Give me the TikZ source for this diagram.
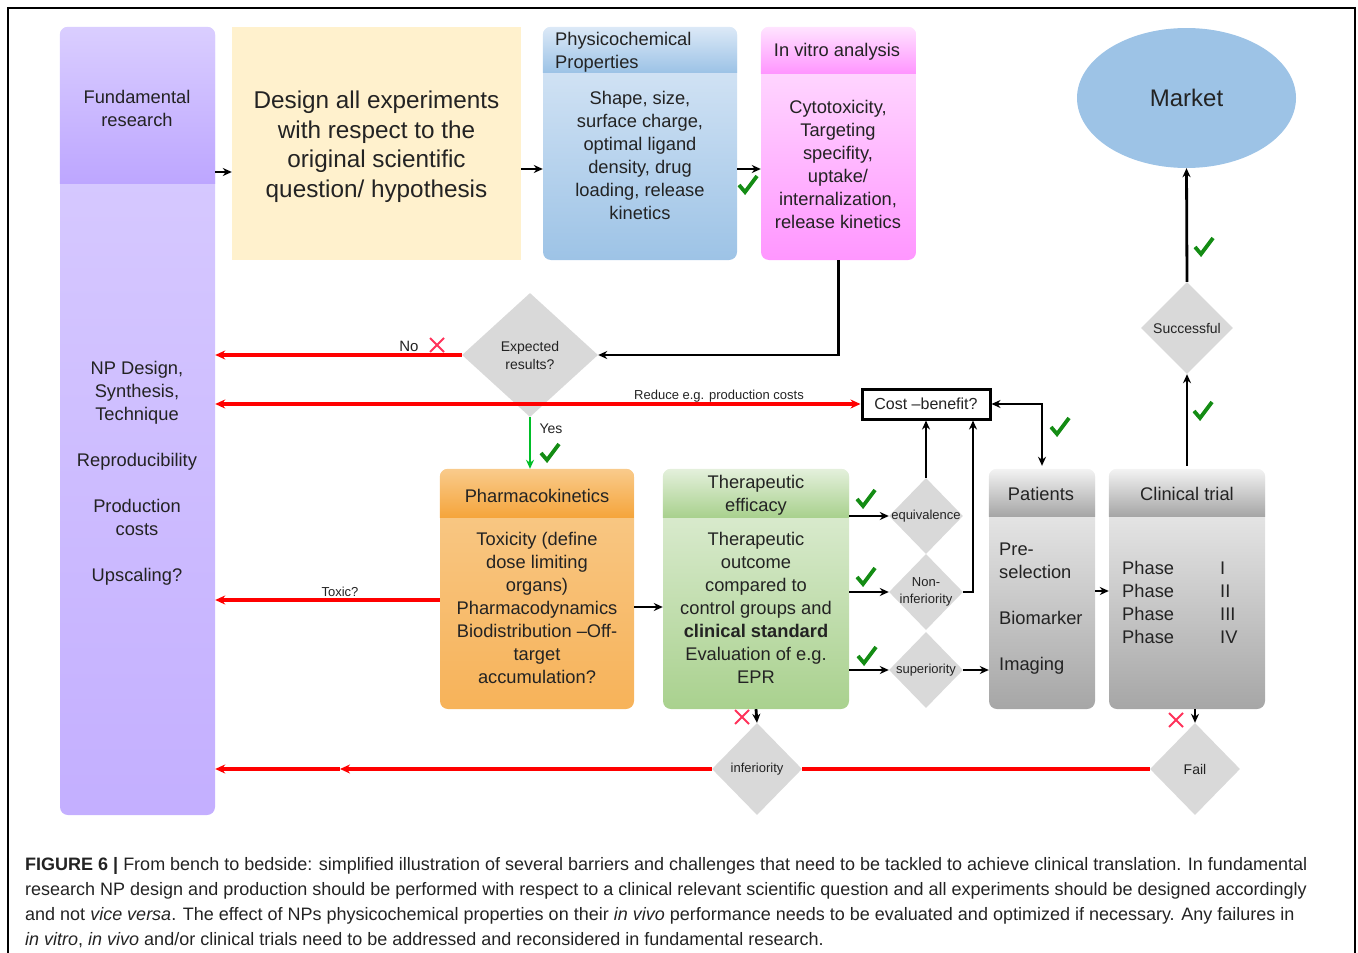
\documentclass[tikz,border=0pt]{standalone}
\usepackage{fontspec}
\setmainfont{Liberation Sans}
\usetikzlibrary{shapes.geometric,arrows.meta}

\definecolor{fundlight}{RGB}{218,206,255}
\definecolor{funddark}{RGB}{189,166,255}
\definecolor{designfill}{RGB}{255,241,205}
\definecolor{physlight}{RGB}{220,233,247}
\definecolor{physdark}{RGB}{157,195,230}
\definecolor{vitrolight}{RGB}{255,228,255}
\definecolor{vitrodark}{RGB}{255,150,255}
\definecolor{pklight}{RGB}{249,203,140}
\definecolor{pkdark}{RGB}{245,165,60}
\definecolor{efflight}{RGB}{228,240,220}
\definecolor{effdark}{RGB}{169,209,142}
\definecolor{greylight}{RGB}{243,243,243}
\definecolor{greydark}{RGB}{166,166,166}
\definecolor{marketfill}{RGB}{157,195,230}
\definecolor{decision}{RGB}{217,217,217}
\definecolor{failred}{RGB}{255,0,0}
\definecolor{crossred}{RGB}{255,50,90}
\definecolor{okgreen}{RGB}{20,140,20}
\definecolor{yesgreen}{RGB}{0,190,40}
\definecolor{txt}{RGB}{35,35,35}

\begin{document}
\begin{tikzpicture}[x=1pt,y=-1pt,
    box/.style={rounded corners=8pt, inner sep=0pt},
    boxtext/.style={text=txt, align=center, inner sep=0pt, font=\fontsize{18.3}{23}\selectfont},
    choice/.style={diamond, fill=decision, inner sep=0pt, aspect=1},
    choicetext/.style={text=txt, align=center, font=\fontsize{13}{17}\selectfont},
    linelabel/.style={text=txt, inner sep=0pt, font=\fontsize{13}{16}\selectfont},
    flow/.style={-{Stealth[length=9pt,width=8pt]}, line width=2.8pt},
    flowboth/.style={{Stealth[length=9pt,width=8pt]}-{Stealth[length=9pt,width=8pt]}, line width=2.8pt},
    back/.style={-{Stealth[length=10pt,width=9pt]}, line width=3.2pt, failred},
    backboth/.style={{Stealth[length=10pt,width=9pt]}-{Stealth[length=10pt,width=9pt]}, line width=3.2pt, failred},
    okmark/.pic={\draw[okgreen, line width=3.8pt] (-9,0) -- (-3,7) -- (9,-9);},
    nomark/.pic={\draw[crossred, line width=1.8pt] (-7,-7) -- (7,7) (-7,7) -- (7,-7);}
  ]
  \useasboundingbox (0,0) rectangle (1358,953);
  \draw[line width=1.2pt] (8,953) -- (8,8) -- (1355,8) -- (1355,953);

  % boxes
  \node (fund) [box, minimum width=155, minimum height=788, top color=fundlight, bottom color=funddark!90] at (137.5,421) {};
  \node (design) [fill=designfill, minimum width=289, minimum height=233] at (376.5,143.5) {};
  \node (phys) [box, minimum width=194, minimum height=233, top color=physlight, bottom color=physdark] at (640,143.5) {};
  \node (vitro) [box, minimum width=155, minimum height=233, top color=vitrolight, bottom color=vitrodark] at (838.5,143.5) {};
  \node (market) [ellipse, fill=marketfill, minimum width=219, minimum height=140, text=txt,
    font=\fontsize{24}{28}\selectfont] at (1186.5,98) {Market};
  \node (pk) [box, minimum width=194, minimum height=240, top color=pklight, bottom color=pkdark!85] at (537,589) {};
  \node (eff) [box, minimum width=186, minimum height=240, top color=efflight, bottom color=effdark] at (756,589) {};
  \node (pat) [box, minimum width=106, minimum height=240, top color=greylight, bottom color=greydark] at (1042,589) {};
  \node (trial) [box, minimum width=156, minimum height=240, top color=greylight, bottom color=greydark] at (1187,589) {};

  % headers
  \foreach \n/\y/\c/\d in {fund/183/fundlight/funddark, phys/72/physlight/physdark,
      vitro/73/vitrolight/vitrodark, pk/517/pklight/pkdark, eff/517/efflight/effdark,
      pat/516/greylight/greydark, trial/516/greylight/greydark} {
    \begin{scope}
      \clip[rounded corners=8pt] (\n.north west) rectangle (\n.south east);
      \shade[top color=\c, bottom color=\d] (\n.north west) rectangle (\n.east |- 0,\y);
    \end{scope}
  }

  % texts
  \node (designtext) [text=txt, align=center, inner sep=0pt, font=\fontsize{24.3}{29.5}\selectfont]
    at (376.5,146.5) {Design all experiments\\with respect to the\\original scientific\\question/ hypothesis};
  \node (fundhead) [boxtext] at (137,108) {Fundamental\\research};
  \node (fundbody) [boxtext] at (137,473.5) {NP Design,\\Synthesis,\\Technique\\[23pt]Reproducibility\\[23pt]Production\\costs\\[23pt]Upscaling?};
  \node (physhead) [boxtext, align=left, anchor=west] at (555,52.5) {Physicochemical\\Properties};
  \node (physbody) [boxtext] at (640,155.5) {Shape, size,\\surface charge,\\optimal ligand\\density, drug\\loading, release\\kinetics};
  \node (vitrohead) [boxtext] at (837,52) {In vitro analysis};
  \node (vitrobody) [boxtext] at (838,164) {Cytotoxicity,\\Targeting\\specifity,\\uptake/\\internalization,\\release kinetics};
  \node (pkhead) [boxtext] at (537,496) {Pharmacokinetics};
  \node (pkbody) [boxtext] at (537,607.5) {Toxicity (define\\dose limiting\\organs)\\Pharmacodynamics\\Biodistribution --Off-\\target\\accumulation?};
  \node (effhead) [boxtext] at (756,495.5) {Therapeutic\\efficacy};
  \node (effbody) [boxtext] at (756,607.5) {Therapeutic\\outcome\\compared to\\control groups and\\\textbf{clinical standard}\\Evaluation of e.g.\\EPR};
  \node (pathead) [boxtext] at (1041,494) {Patients};
  \node (patbody) [boxtext, align=left, anchor=west] at (999,609) {Pre-\\selection\\[23pt]Biomarker\\[23pt]Imaging};
  \node (trialhead) [boxtext] at (1187,494) {Clinical trial};
  \node (trialbody) [boxtext, anchor=west] at (1122,604.5) {\begin{tabular}{@{}p{98pt}@{}l@{}}Phase & I\\Phase & II\\Phase & III\\Phase & IV\end{tabular}};

  % decisions
  \node (expect) [choice, minimum width=136, minimum height=124,
    label={[choicetext, font=\fontsize{14}{18}\selectfont]center:Expected\\results?}] at (530,355) {};
  \node (equiv) [choice, minimum width=74, minimum height=76, label={[choicetext]center:equivalence}] at (926,516) {};
  \node (noninf) [choice, minimum width=74, minimum height=76, label={[choicetext]center:Non-\\inferiority}] at (926,592) {};
  \node (sup) [choice, minimum width=74, minimum height=76, label={[choicetext]center:superiority}] at (926,670) {};
  \node (success) [choice, minimum width=92, minimum height=92, label={[choicetext, font=\fontsize{14}{17}\selectfont]center:Successful}] at (1187,328) {};
  \node (inf) [choice, minimum width=90, minimum height=92, label={[choicetext]center:inferiority}] at (757,769) {};
  \node (fail) [choice, minimum width=90, minimum height=92, label={[choicetext, font=\fontsize{14}{17}\selectfont]center:Fail}] at (1195,769) {};
  \node (cost) [draw, line width=3pt, fill=white, minimum width=128, minimum height=30, text=txt,
    font=\fontsize{16}{19}\selectfont] at (926,404) {Cost --benefit?};

  % connectors
  \draw[flow] (fund.east |- 0,172) -- (design.west |- 0,172);
  \draw[flow] (design.east |- 0,169) -- (phys.west |- 0,169);
  \draw[flow] (phys.east |- 0,169) -- (vitro.west |- 0,169);
  \draw[flow, line width=2.3pt] (vitro.south) |- (expect.east);
  \draw[back] (expect.west) -- (fund.east |- expect.west);
  \draw[backboth] (fund.east |- cost.west) -- (cost.west);
  \draw[flow, yesgreen, line width=2.5pt] (expect.south) -- (expect.south |- pk.north);
  \draw[back] (pk.west |- 0,600) -- (fund.east |- 0,600);
  \draw[flow] (pk.east |- 0,607) -- (eff.west |- 0,607);
  \draw[flow] (eff.east |- equiv.west) -- (equiv.west);
  \draw[flow] (eff.east |- noninf.west) -- (noninf.west);
  \draw[flow] (eff.east |- sup.west) -- (sup.west);
  \draw[flow] (equiv.north) -- (equiv.north |- cost.south);
  \draw[flow] (noninf.east) -| ([xshift=47pt]cost.south);
  \draw[flow] (sup.east) -- (pat.west |- sup.east);
  \draw[flowboth] (cost.east) -| ([yshift=3pt]pat.north);
  \draw[flow] (pat.east |- 0,591) -- (trial.west |- 0,591);
  \draw[flow] ([yshift=3pt]trial.north) -- (success.south);
  \draw[flow] (success.north) -- (market.south);
  \draw[flow] (eff.south) -- (inf.north);
  \draw[flow] (trial.south -| fail.north) -- (fail.north);
  \draw[line width=3.2pt, failred] (fail.west) -- (inf.east);
  \coordinate (infmid) at (340,769);
  \draw[back] (inf.west) -- (infmid);
  \draw[back] (infmid) -- (fund.east |- infmid);

  % labels on lines
  \node (nolabel) [linelabel, font=\fontsize{15}{18}\selectfont] at (409,346) {No};
  \node (reducelabel) [linelabel] at (719,396) {Reduce e.g. production costs};
  \node (yeslabel) [linelabel, font=\fontsize{14}{17}\selectfont] at (551,429) {Yes};
  \node (toxiclabel) [linelabel] at (340,592) {Toxic?};
  \pic at (437,345) {nomark};
  \pic at (742,717) {nomark};
  \pic at (1176,720) {nomark};
  \foreach \p in {(748,185),(550,453),(866,499),(866,577),(867,656),(1060,427),(1203,411),(1204,247)}
    \pic at \p {okmark};

  % caption
  \node (caption) [anchor=west, align=left, inner sep=0pt, text=txt, font=\fontsize{18}{25}\selectfont] at (25,902.5)
    {\textbf{FIGURE 6 |} From bench to bedside: simplified illustration of several barriers and challenges that need to be tackled to achieve clinical translation. In fundamental\\
     research NP design and production should be performed with respect to a clinical relevant scientific question and all experiments should be designed accordingly\\
     and not \textit{vice versa}. The effect of NPs physicochemical properties on their \textit{in vivo} performance needs to be evaluated and optimized if necessary. Any failures in\\
     \textit{in vitro}, \textit{in vivo} and/or clinical trials need to be addressed and reconsidered in fundamental research.};
\end{tikzpicture}
\end{document}
